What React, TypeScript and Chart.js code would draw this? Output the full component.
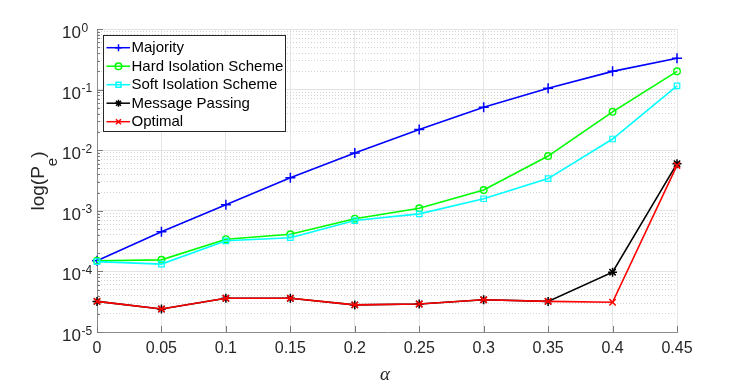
import React, { useEffect, useRef } from "react";
import { Chart, registerables } from "chart.js";
import { drawPoint } from "chart.js/helpers";

Chart.register(...registerables);

const ALPHA = [0, 0.05, 0.1, 0.15, 0.2, 0.25, 0.3, 0.35, 0.4, 0.45];
const X_TICK_LABELS = ["0", "0.05", "0.1", "0.15", "0.2", "0.25", "0.3", "0.35", "0.4", "0.45"];
const Y_DECADES = [-5, -4, -3, -2, -1, 0];
const Y_TICK_EXPONENT_LABELS = ["-5", "-4", "-3", "-2", "-1", "0"];

const MAJORITY = [1.5e-4, 4.5e-4, 1.26e-3, 3.5e-3, 9e-3, 0.022, 0.051, 0.105, 0.2, 0.33];
const HARD_ISOLATION = [1.5e-4, 1.55e-4, 3.4e-4, 4.1e-4, 7.4e-4, 1.1e-3, 2.2e-3, 8e-3, 0.043, 0.2];
const SOFT_ISOLATION = [1.45e-4, 1.32e-4, 3.2e-4, 3.6e-4, 6.9e-4, 8.9e-4, 1.58e-3, 3.4e-3, 0.0153, 0.115];
const MESSAGE_PASSING = [3.2e-5, 2.4e-5, 3.6e-5, 3.6e-5, 2.8e-5, 2.9e-5, 3.4e-5, 3.2e-5, 9.7e-5, 6e-3];
const OPTIMAL = [3.2e-5, 2.4e-5, 3.6e-5, 3.6e-5, 2.8e-5, 2.9e-5, 3.4e-5, 3.2e-5, 3.1e-5, 5.6e-3];

const SERIES_NAMES = ["Majority", "Hard Isolation Scheme", "Soft Isolation Scheme", "Message Passing", "Optimal"];
const SERIES_VALUES = [MAJORITY, HARD_ISOLATION, SOFT_ISOLATION, MESSAGE_PASSING, OPTIMAL];
const SERIES_COLORS = ["#0000ff", "#00ff00", "#00ffff", "#000000", "#ff0000"];
const SERIES_MARKERS = ["cross", "circle", "rect", "star", "crossRot"];
const SERIES_MARKER_SIZES = [5, 3.3, 3.9, 4.5, 4.5];
const SERIES_MARKER_WIDTHS = [1.5, 1.4, 1.2, 1.5, 1.5];

const FONT = '"Liberation Sans", Arial, Helvetica, sans-serif';
const TEXT_COLOR = "#262626";
const AXIS_COLOR = "#8c8c8c";

function isDecade(v: number) {
  const l = Math.log10(v);
  return Math.abs(l - Math.round(l)) < 1e-9;
}

const decorPlugin = {
  id: "decor",
  beforeDatasetsDraw(chart: any) {
    const ctx = chart.ctx;
    const { left, bottom } = chart.chartArea;
    const ys = chart.scales.y;
    const xs = chart.scales.x;
    ctx.save();
    ctx.strokeStyle = "#7a7a7a";
    ctx.lineWidth = 1;
    ctx.beginPath();
    for (const t of ys.ticks) {
      const y = Math.round(ys.getPixelForValue(t.value)) + 0.5;
      const len = isDecade(t.value) ? 6 : 3;
      ctx.moveTo(left, y);
      ctx.lineTo(left + len, y);
    }
    for (const t of xs.ticks) {
      const x = Math.round(xs.getPixelForValue(t.value)) + 0.5;
      ctx.moveTo(x, bottom);
      ctx.lineTo(x, bottom - 6);
    }
    ctx.stroke();
    ctx.restore();
  },
  afterDatasetsDraw(chart: any) {
    const ctx = chart.ctx;
    const bx = 103.5, by = 35.5, bw = 182, bh = 96;
    ctx.save();
    ctx.fillStyle = "#ffffff";
    ctx.fillRect(bx, by, bw, bh);
    ctx.strokeStyle = TEXT_COLOR;
    ctx.lineWidth = 1;
    ctx.strokeRect(bx, by, bw, bh);
    chart.data.datasets.forEach((ds: any, i: number) => {
      const y = 47.7 + i * 18.5;
      ctx.strokeStyle = ds.borderColor;
      ctx.lineWidth = 1.5;
      ctx.beginPath();
      ctx.moveTo(106.5, y);
      ctx.lineTo(130, y);
      ctx.stroke();
      ctx.fillStyle = "rgba(0,0,0,0)";
      drawPoint(ctx, { pointStyle: ds.pointStyle, radius: Math.min(ds.pointRadius, 3.5), rotation: 0, borderWidth: ds.pointBorderWidth }, 118.5, y);
      ctx.fillStyle = "#000000";
      ctx.font = "15px " + FONT;
      ctx.textAlign = "left";
      ctx.textBaseline = "middle";
      ctx.fillText(ds.label, 131.5, y + 0.5);
    });
    ctx.restore();
  },
  afterDraw(chart: any) {
    const ctx = chart.ctx;
    const ys = chart.scales.y;
    ctx.save();
    ctx.fillStyle = TEXT_COLOR;
    ctx.textAlign = "left";
    ctx.textBaseline = "alphabetic";
    Y_DECADES.forEach((e, i) => {
      const y = ys.getPixelForValue(Math.pow(10, e));
      ctx.font = "17px " + FONT;
      ctx.fillText("10", 62, y + 9);
      const w = ctx.measureText("10").width;
      ctx.font = "12px " + FONT;
      ctx.fillText(Y_TICK_EXPONENT_LABELS[i], 62 + w + 0.5, y + 2.5);
    });
    ctx.save();
    ctx.translate(43.5, 181);
    ctx.rotate(-Math.PI / 2);
    const f1 = "19px " + FONT;
    const f2 = "15px " + FONT;
    ctx.font = f1;
    const w1 = ctx.measureText("log(P").width;
    const w3 = ctx.measureText(")").width;
    ctx.font = f2;
    const w2 = ctx.measureText("e").width;
    let x = -(w1 + w2 + w3) / 2;
    ctx.font = f1;
    ctx.fillText("log(P", x, 0);
    x += w1;
    ctx.font = f2;
    ctx.fillText("e", x, 13);
    x += w2;
    ctx.font = f1;
    ctx.fillText(")", x, 0);
    ctx.restore();
    ctx.font = 'italic 19px "Liberation Serif", "DejaVu Serif", serif';
    ctx.textAlign = "center";
    ctx.fillText("\u03B1", (chart.chartArea.left + chart.chartArea.right) / 2 - 2, 380);
    ctx.restore();
  },
};

export default function App() {
  const ref = useRef<HTMLCanvasElement | null>(null);

  useEffect(() => {
    if (!ref.current) return;
    const datasets = SERIES_NAMES.map((name, i) => ({
      label: name,
      data: ALPHA.map((a, j) => ({ x: a, y: SERIES_VALUES[i][j] })),
      borderColor: SERIES_COLORS[i],
      backgroundColor: "rgba(0,0,0,0)",
      borderWidth: 1.6,
      pointStyle: SERIES_MARKERS[i],
      pointRadius: SERIES_MARKER_SIZES[i],
      pointBorderWidth: SERIES_MARKER_WIDTHS[i],
      pointBorderColor: SERIES_COLORS[i],
      pointBackgroundColor: "rgba(0,0,0,0)",
      tension: 0,
      fill: false,
      clip: false as any,
      order: SERIES_NAMES.length - i,
    }));

    const chart = new Chart(ref.current, {
      type: "line",
      data: { datasets },
      plugins: [decorPlugin],
      options: {
        animation: false,
        responsive: false,
        devicePixelRatio: 1,
        layout: { padding: { left: 97, right: 70, top: 29, bottom: 0 } },
        plugins: { legend: { display: false }, tooltip: { enabled: false } },
        scales: {
          x: {
            type: "linear",
            min: 0,
            max: 0.45,
            afterBuildTicks: (scale: any) => {
              scale.ticks = ALPHA.map((v) => ({ value: v }));
            },
            afterFit: (scale: any) => {
              scale.height = 51;
            },
            ticks: {
              autoSkip: false,
              maxRotation: 0,
              padding: 7,
              color: TEXT_COLOR,
              font: { family: FONT, size: 16 },
              callback: (_v: any, i: number) => X_TICK_LABELS[i],
            },
            grid: { color: "#e6e6e6", lineWidth: 1, drawTicks: false },
            border: { display: true, color: AXIS_COLOR, width: 1 },
          },
          y: {
            type: "logarithmic",
            min: Math.pow(10, Y_DECADES[0]),
            max: Math.pow(10, Y_DECADES[Y_DECADES.length - 1]),
            afterBuildTicks: (scale: any) => {
              const ticks: any[] = [];
              for (let k = 0; k < Y_DECADES.length - 1; k++) {
                for (let m = 1; m <= 9; m++) ticks.push({ value: m * Math.pow(10, Y_DECADES[k]) });
              }
              ticks.push({ value: Math.pow(10, Y_DECADES[Y_DECADES.length - 1]) });
              scale.ticks = ticks;
            },
            afterFit: (scale: any) => {
              scale.width = 0;
            },
            ticks: { display: false, autoSkip: false },
            grid: {
              drawTicks: false,
              lineWidth: 1,
              color: (c: any) => (c.tick && isDecade(c.tick.value) ? "#e3e3e3" : "#d4d4d4"),
            },
            border: {
              display: true,
              color: AXIS_COLOR,
              width: 1,
              dash: (c: any) => (c.tick && !isDecade(c.tick.value) ? [1, 2] : []),
            } as any,
          },
        },
      } as any,
    });
    return () => chart.destroy();
  }, []);

  return (
    <div style={{ position: "absolute", left: 0, top: 0, width: 747, height: 383, background: "#fff" }}>
      <canvas ref={ref} width={747} height={383} style={{ display: "block" }} />
    </div>
  );
}
